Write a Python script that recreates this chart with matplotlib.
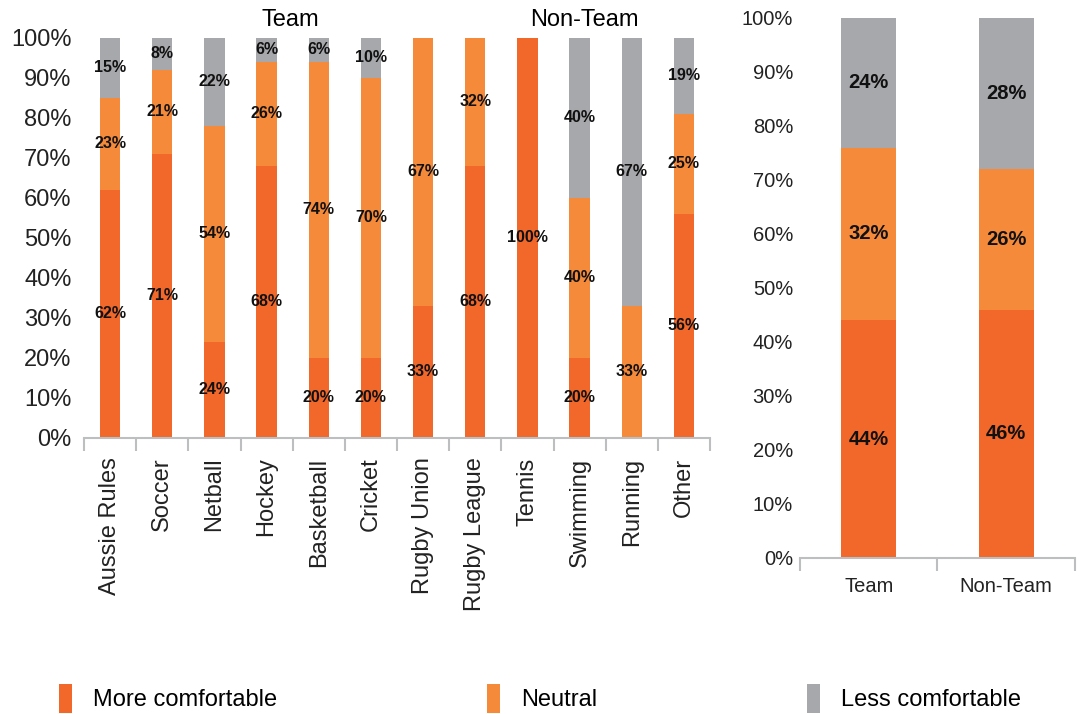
import matplotlib.pyplot as plt
from matplotlib.patches import Patch
import numpy as np

plt.rcParams['font.family'] = ['Liberation Sans', 'DejaVu Sans']

# per-sport breakdown
sports = ['Aussie Rules', 'Soccer', 'Netball', 'Hockey', 'Basketball', 'Cricket',
          'Rugby Union', 'Rugby League', 'Tennis', 'Swimming', 'Running', 'Other']
more = [62, 71, 24, 68, 20, 20, 33, 68, 100, 20, 0, 56]
neutral = [23, 21, 54, 26, 74, 70, 67, 32, 0, 40, 33, 25]
less = [15, 8, 22, 6, 6, 10, 0, 0, 0, 40, 67, 19]

# team vs non-team summary
groups = ['Team', 'Non-Team']
g_more = [44, 46]
g_neutral = [32, 26]
g_less = [24, 28]

series_names = ['More comfortable', 'Neutral', 'Less comfortable']
colors = ['#F1682A', '#F58A3B', '#A7A8AB']
axis_grey = '#BDBEC0'


def stacked(ax, cats, rows, width, label_size):
    x = np.arange(len(cats))
    bottom = np.zeros(len(cats))
    for vals, c in zip(rows, colors):
        vals = np.array(vals, dtype=float)
        ax.bar(x, vals, width, bottom=bottom, color=c, linewidth=0)
        for xi, b, v in zip(x, bottom, vals):
            if v > 0:
                ax.text(xi, b + v / 2, f'{int(v)}%', ha='center', va='center',
                        fontsize=label_size, color='#111111', fontweight='bold')
        bottom += vals
    ax.set_xlim(-0.5, len(cats) - 0.5)
    ax.set_ylim(0, 100)
    ax.set_yticks(range(0, 101, 10))
    ax.set_yticklabels([f'{v}%' for v in range(0, 101, 10)])
    ax.set_xticks(x)
    ax.set_xticks(np.arange(-0.5, len(cats)), minor=True)
    ax.tick_params(axis='x', which='major', length=0)
    ax.tick_params(axis='x', which='minor', length=9, color=axis_grey, width=1.5)
    ax.tick_params(axis='y', length=0)
    for s in ['top', 'right', 'left']:
        ax.spines[s].set_visible(False)
    ax.spines['bottom'].set_color(axis_grey)
    ax.spines['bottom'].set_linewidth(1.5)
    return x


fig = plt.figure(figsize=(10.84, 7.14), dpi=100)

ax1 = fig.add_axes([0.0775, 0.3866, 0.5775, 0.5602])
stacked(ax1, sports, [more, neutral, less], 0.39, 11.5)
ax1.set_xticklabels(sports, rotation=90, fontsize=17, color='#222222')
ax1.tick_params(axis='y', labelsize=17, labelcolor='#222222', pad=9)
ax1.tick_params(axis='x', pad=14)
ax1.text(0.33, 1.018, 'Team', transform=ax1.transAxes, ha='center', va='bottom', fontsize=17)
ax1.text(0.80, 1.018, 'Non-Team', transform=ax1.transAxes, ha='center', va='bottom', fontsize=17)

ax2 = fig.add_axes([0.738, 0.2185, 0.2537, 0.7563])
stacked(ax2, groups, [g_more, g_neutral, g_less], 0.4, 14.5)
ax2.set_xticklabels(groups, fontsize=14.5, color='#222222')
ax2.tick_params(axis='y', labelsize=14.5, labelcolor='#222222', pad=5)
ax2.tick_params(axis='x', pad=14)

# legend, three entries spread along the bottom
for name, c, xpos in zip(series_names, colors, [0.035, 0.43, 0.725]):
    fig.legend(handles=[Patch(color=c, linewidth=0)], labels=[name],
               loc='lower left', bbox_to_anchor=(xpos, -0.028), frameon=False,
               fontsize=17, handlelength=0.55, handleheight=1.5, handletextpad=0.9)

fig.savefig('out.png', dpi=100)
